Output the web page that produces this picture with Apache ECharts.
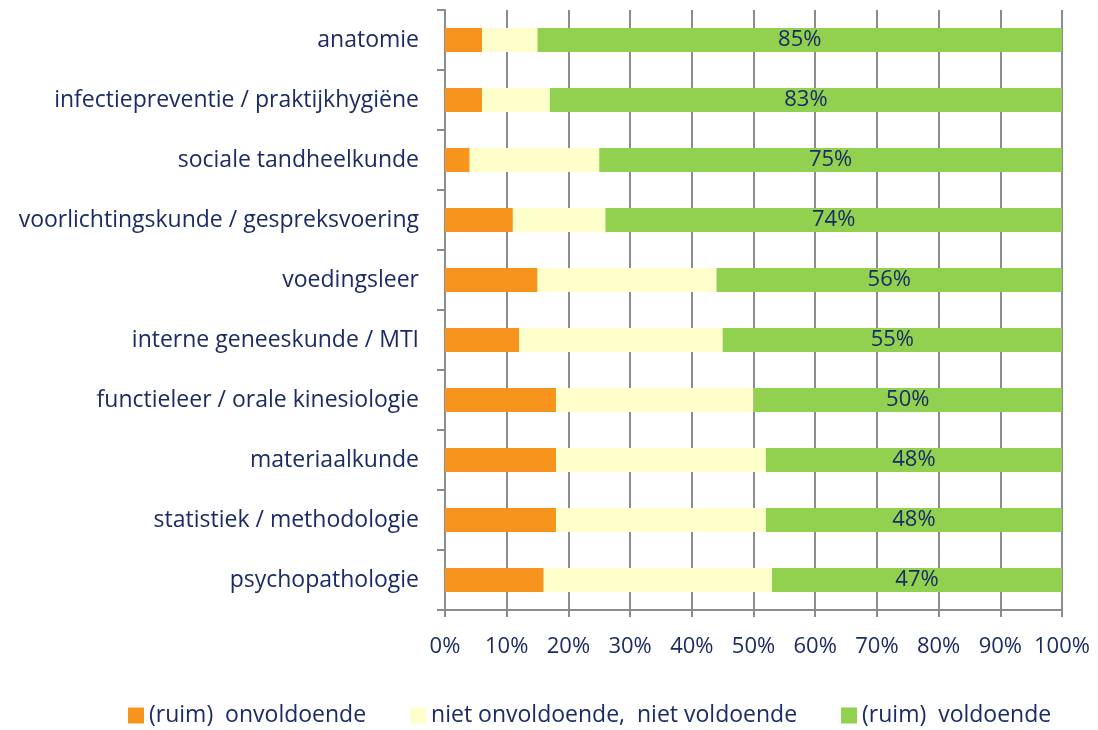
<!DOCTYPE html>
<html>
<head>
<meta charset="utf-8">
<script src="https://cdn.jsdelivr.net/npm/echarts@6/dist/echarts.min.js"></script>
<style>html,body{margin:0;padding:0;background:#fff;}#c{width:1098px;height:730px;}</style>
</head>
<body>
<div id="c"></div>
<script>
var categories = ['anatomie','infectiepreventie / praktijkhygiëne','sociale tandheelkunde','voorlichtingskunde / gespreksvoering','voedingsleer','interne geneeskunde / MTI','functieleer / orale kinesiologie','materiaalkunde','statistiek / methodologie','psychopathologie'];
var seriesNames = ['(ruim)  onvoldoende','niet onvoldoende,  niet voldoende','(ruim)  voldoende'];
var onvoldoende = [6, 6, 4, 11, 15, 12, 18, 18, 18, 16];
var neutraal = [9, 11, 21, 15, 29, 33, 32, 34, 34, 37];
var voldoende = [85, 83, 75, 74, 56, 55, 50, 48, 48, 47];
var xTicks = [0,10,20,30,40,50,60,70,80,90,100];

var txt = '#1B2B66';
var font = 'Open Sans';
var chart = echarts.init(document.getElementById('c'));
function mk(name, data, color, label){
  return {
    name: name, type: 'bar', stack: 'a', data: data, barWidth: 24,
    itemStyle: {color: color},
    label: label ? {show: true, position: 'inside', formatter: '{c}%', color: txt, fontFamily: font, fontSize: 22} : {show:false}
  };
}
chart.setOption({
  animation: false,
  textStyle: {fontFamily: font},
  grid: {left: 445, right: 36, top: 10, bottom: 120, containLabel: false},
  legend: {
    bottom: -2, left: 123, itemWidth: 16, itemHeight: 16, itemGap: 44,
    icon: 'rect',
    textStyle: {color: txt, fontSize: 23, fontFamily: font},
    data: seriesNames
  },
  xAxis: {
    type: 'value', min: 0, max: 100, interval: 10,
    axisLabel: {formatter: function(v){ return xTicks.indexOf(v) >= 0 ? v + '%' : ''; }, color: txt, fontSize: 22, fontFamily: font, margin: 26},
    axisLine: {show: true, lineStyle: {color: '#8C8C8C', width: 2}},
    axisTick: {show: true, length: 7, lineStyle: {color: '#8C8C8C', width: 2}},
    splitLine: {show: true, lineStyle: {color: '#8C8C8C', width: 2, type: 'solid'}}
  },
  yAxis: {
    type: 'category', inverse: true, data: categories,
    axisLabel: {color: txt, fontSize: 23, fontFamily: font, margin: 26},
    axisLine: {show: true, lineStyle: {color: '#8C8C8C', width: 2}},
    axisTick: {show: true, length: 8, lineStyle: {color: '#8C8C8C', width: 2}}
  },
  series: [
    mk(seriesNames[0], onvoldoende, '#F7941E', false),
    mk(seriesNames[1], neutraal, '#FFFFCC', false),
    mk(seriesNames[2], voldoende, '#92D050', true)
  ]
});
</script>
</body>
</html>
